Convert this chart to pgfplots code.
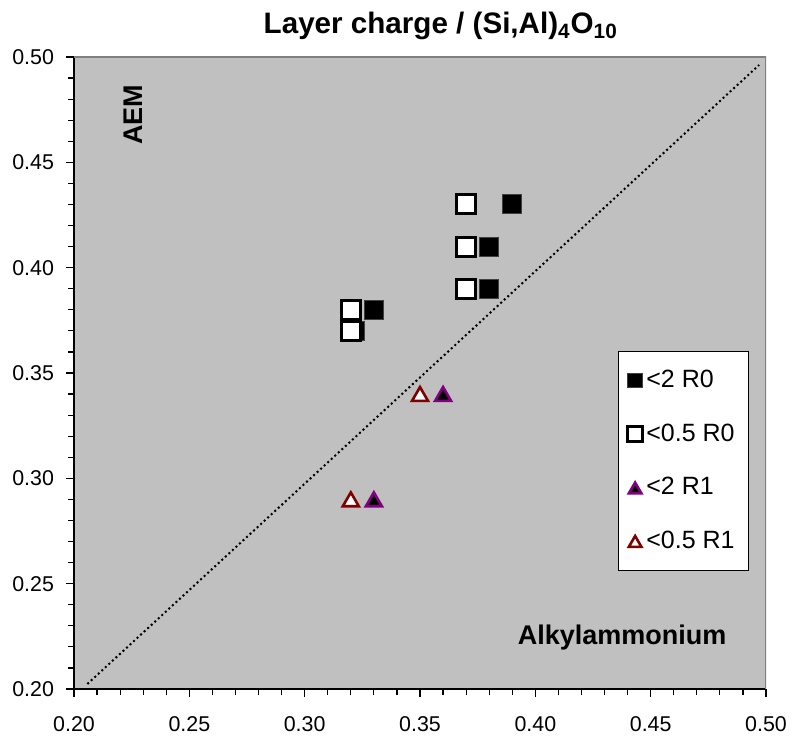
\documentclass[border=0pt]{standalone}
\usepackage{pgfplots}
\pgfplotsset{compat=1.18}
\usepackage{fontspec}
\setmainfont{Liberation Sans}
\definecolor{bg}{HTML}{C0C0C0}
\definecolor{pur}{HTML}{800080}
\definecolor{dred}{HTML}{800000}
\begin{document}
\begin{tikzpicture}
\begin{axis}[
  scale only axis, width=346pt, height=316pt,
  xmin=0.2, xmax=0.5, ymin=0.2, ymax=0.5,
  xtick={0.2,0.25,0.3,0.35,0.4,0.45,0.5},
  ytick={0.2,0.25,0.3,0.35,0.4,0.45,0.5},
  minor x tick num=4, minor y tick num=4,
  tick align=outside,
  major tick length=4pt, minor tick length=3pt,
  tick style={black, line width=0.6pt},
  axis x line*=bottom, axis y line*=left,
  axis line style={-, black, line width=0.8pt},
  axis background/.style={fill=bg},
  /pgf/number format/fixed, /pgf/number format/fixed zerofill,
  /pgf/number format/precision=2, /pgf/number format/assume math mode=true,
  every tick label/.append style={font=\fontsize{10.7}{12}\selectfont},
  xticklabel style={yshift=-6pt},
  yticklabel style={xshift=-2.5pt},
  title={Layer charge / (Si,Al)\textsubscript{4}O\textsubscript{10}},
  title style={font=\bfseries\fontsize{14.8}{17}\selectfont, at={(0.53,1)}, anchor=base, yshift=5.5pt},
  legend cell align=left,
  legend style={at={(0.9754,0.5348)}, anchor=north east, draw=black, fill=white,
    font=\fontsize{12.5}{14}\selectfont, row sep=12.5pt, inner xsep=5pt, inner ysep=7.5pt},
  legend image post style={mark size=3.6pt},
]
\addplot[forget plot, black, line width=1pt, dash pattern=on 1pt off 1.4pt] coordinates {(0.2058,0.2024) (0.497,0.4962)};
\addplot[only marks, mark=square*, mark size=4.75pt, mark options={fill=black, draw=black!75, line width=0.5pt}]
  coordinates {(0.39,0.43) (0.38,0.41) (0.38,0.39) (0.33,0.38) (0.322,0.37)};
\addlegendentry{<2 R0}
\addplot[only marks, mark=square*, mark size=4.75pt, mark options={fill=white, draw=black, line width=1.5pt}]
  coordinates {(0.37,0.43) (0.37,0.41) (0.37,0.39) (0.32,0.38) (0.32,0.37)};
\addlegendentry{<0.5 R0}
\addplot[only marks, mark=triangle*, mark size=4.6pt, mark options={fill=black, draw=pur, line width=1.3pt, yshift=-1.1pt}]
  coordinates {(0.36,0.34) (0.33,0.29)};
\addlegendentry{<2 R1}
\addplot[only marks, mark=triangle*, mark size=4.6pt, mark options={fill=white, draw=dred, line width=1.3pt, yshift=-1.1pt}]
  coordinates {(0.35,0.34) (0.32,0.29)};
\addlegendentry{<0.5 R1}
\draw[black!50, line width=1.2pt] (rel axis cs:0,1) -- (rel axis cs:1,1) -- (rel axis cs:1,0);
\node[rotate=90, anchor=base, font=\bfseries\fontsize{13.5}{16}\selectfont] at (axis cs:0.2299,0.4725) {AEM};
\node[anchor=base, font=\bfseries\fontsize{13.5}{16}\selectfont] at (axis cs:0.4376,0.2209) {Alkylammonium};
\end{axis}
\pgfresetboundingbox
\path[use as bounding box] ([shift={(-37pt,-24.5pt)}]current axis.south west) rectangle ([shift={(13.5pt,28.5pt)}]current axis.north east);
\end{tikzpicture}
\end{document}
